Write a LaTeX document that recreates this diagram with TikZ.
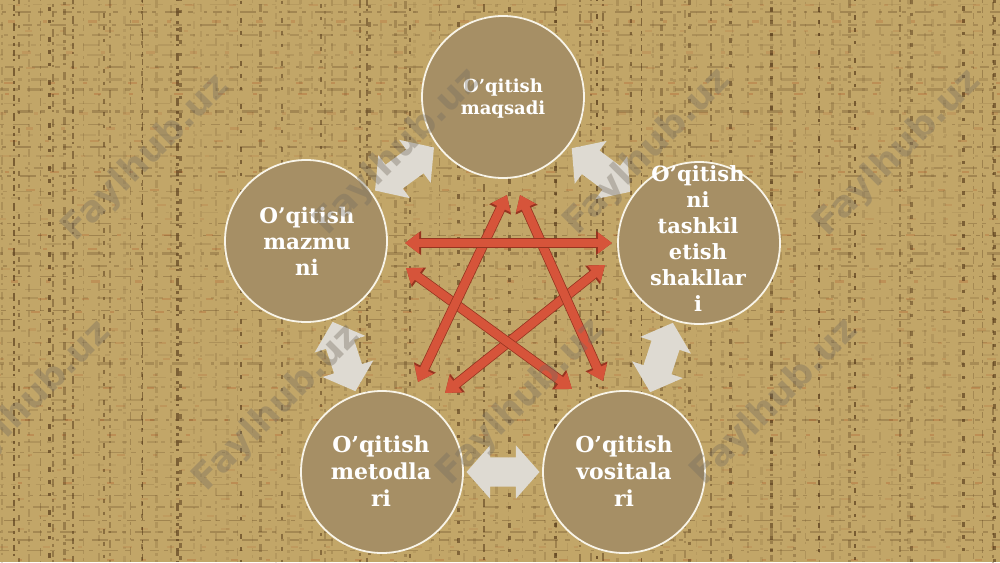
\documentclass[tikz,border=0pt]{standalone}
\usepackage{fontspec}
\newfontfamily\circfont{DejaVu Serif}
\newfontfamily\wmfont{DejaVu Sans}
\usetikzlibrary{shapes.arrows,arrows.meta,calc}
\definecolor{bgbase}{RGB}{194,166,104}
\definecolor{streak}{RGB}{70,42,14}
\definecolor{rust}{RGB}{178,92,42}
\definecolor{circfill}{RGB}{166,143,101}
\definecolor{circline}{RGB}{248,244,232}
\definecolor{grayarrow}{RGB}{222,218,210}
\definecolor{redfill}{RGB}{214,84,58}
\definecolor{redline}{RGB}{150,52,32}
\definecolor{wmcol}{RGB}{118,110,96}
\begin{document}
\begin{tikzpicture}[x=1pt,y=-1pt,
  circ/.style={circle, fill=circfill, draw=circline, line width=1.8pt, minimum size=162pt, inner sep=0pt},
  ctext/.style={text=white, font=\circfont\bfseries\fontsize{22}{27}\selectfont, align=center, inner sep=0pt},
  garrow/.style={double arrow, fill=grayarrow, inner xsep=0pt, inner ysep=14.5pt,
     double arrow head extend=12pt, double arrow tip angle=97, minimum height=73pt},
  redarr/.style={draw=redfill, line width=8.5pt,
     arrows={Triangle[width=20pt,length=14pt]-Triangle[width=20pt,length=14pt]},
     preaction={draw=redline, line width=10pt,
       arrows={Triangle[width=23pt,length=16pt]-Triangle[width=23pt,length=16pt]}}},
  wm/.style={text=wmcol, text opacity=0.38, font=\wmfont\bfseries\fontsize{36}{36}\selectfont, rotate=45, inner sep=0pt}
]
\useasboundingbox (0,0) rectangle (1000,562);
% background texture
\fill[bgbase] (0,0) rectangle (1000,562);
\pgfmathsetseed{7}
% weft: faint horizontal dashes
\foreach \i in {0,...,50} {
  \pgfmathsetmacro\yy{\i*11+5*rnd}
  \pgfmathsetmacro\op{0.06+0.22*rnd}
  \pgfmathsetmacro\lw{1+1.6*rnd}
  \pgfmathsetmacro\ph{90*rnd}
  \draw[streak, opacity=\op, line width=\lw pt,
    dash pattern=on 9pt off 5pt on 4pt off 9pt on 16pt off 7pt on 5pt off 11pt on 3pt off 6pt,
    dash phase=\ph pt] (0,\yy) -- (1000,\yy);
}
\foreach \i in {0,...,36} {
  \pgfmathsetmacro\yy{\i*15.5+6*rnd}
  \pgfmathsetmacro\op{0.12+0.22*rnd}
  \pgfmathsetmacro\ph{120*rnd}
  \draw[rust, opacity=\op, line width=2.2pt,
    dash pattern=on 7pt off 28pt on 4pt off 41pt on 9pt off 35pt,
    dash phase=\ph pt] (0,\yy) -- (1000,\yy);
}
% warp: vertical dotted streaks
\foreach \i in {0,...,85} {
  \pgfmathsetmacro\xx{\i*11.8+7*rnd}
  \pgfmathsetmacro\op{0.08+0.55*rnd*rnd}
  \pgfmathsetmacro\lw{1+2.4*rnd}
  \pgfmathsetmacro\ph{60*rnd}
  \draw[streak, opacity=\op, line width=\lw pt,
    dash pattern=on 3pt off 4pt on 6pt off 3pt on 2pt off 7pt on 8pt off 5pt on 3pt off 4pt,
    dash phase=\ph pt] (\xx,0) -- (\xx,562);
}
\foreach \i in {0,...,22} {
  \pgfmathsetmacro\xx{\i*45+20*rnd}
  \pgfmathsetmacro\op{0.35+0.3*rnd}
  \pgfmathsetmacro\ph{60*rnd}
  \draw[streak, opacity=\op, line width=2.6pt,
    dash pattern=on 4pt off 9pt on 3pt off 14pt on 5pt off 8pt,
    dash phase=\ph pt] (\xx,0) -- (\xx,562);
}
% circles
\node[circ] (cT) at (503,97) {};
\node[circ] (cL) at (306,241) {};
\node[circ] (cR) at (699,243) {};
\node[circ] (cBL) at (382,472) {};
\node[circ] (cBR) at (624,472) {};
\node[ctext, font=\circfont\bfseries\fontsize{18}{22}\selectfont] (tT) at (503,99) {O’qitish\\maqsadi};
\node[ctext, font=\circfont\bfseries\fontsize{21.5}{26}\selectfont] (tL) at (307,241) {O’qitish\\mazmu\\ni};
\node[ctext, font=\circfont\bfseries\fontsize{21}{26}\selectfont] (tR) at (698,239) {O’qitish\\ni\\tashkil\\etish\\shakllar\\i};
\node[ctext] (tBL) at (381,471) {O’qitish\\metodla\\ri};
\node[ctext] (tBR) at (624,471) {O’qitish\\vositala\\ri};
% gray block arrows between neighbouring circles
\node[garrow, rotate=36.2] (g1) at ($(cL)!0.5!(cT)$) {};
\node[garrow, rotate=-36.7] (g2) at ($(cT)!0.5!(cR)$) {};
\node[garrow, rotate=-71.8] (g3) at ($(cL)!0.5!(cBL)$) {};
\node[garrow, rotate=71.9] (g4) at ($(cR)!0.5!(cBR)$) {};
\node[garrow] (g5) at ($(cBL)!0.5!(cBR)$) {};
% red star arrows
\coordinate (r1a) at (405,243); \coordinate (r1b) at (612,243);
\coordinate (r2a) at (406,268); \coordinate (r2b) at (572,389);
\coordinate (r3a) at (605,265); \coordinate (r3b) at (445,393);
\coordinate (r4a) at (507,195); \coordinate (r4b) at (418,382);
\coordinate (r5a) at (520,195); \coordinate (r5b) at (603,381);
\draw[redarr] (r3a) -- (r3b);
\draw[redarr] (r2a) -- (r2b);
\draw[redarr] (r5a) -- (r5b);
\draw[redarr] (r4a) -- (r4b);
\draw[redarr] (r1a) -- (r1b);
% watermarks
\node[wm] (w1) at (146,158) {Faylhub.uz};
\node[wm] (w2) at (398,152) {Faylhub.uz};
\node[wm] (w3) at (648,152) {Faylhub.uz};
\node[wm] (w4) at (898,153) {Faylhub.uz};
\node[wm] (w5) at (28,404) {Faylhub.uz};
\node[wm] (w6) at (277,408) {Faylhub.uz};
\node[wm] (w7) at (521,402) {Faylhub.uz};
\node[wm] (w8) at (775,402) {Faylhub.uz};
\end{tikzpicture}
\end{document}
